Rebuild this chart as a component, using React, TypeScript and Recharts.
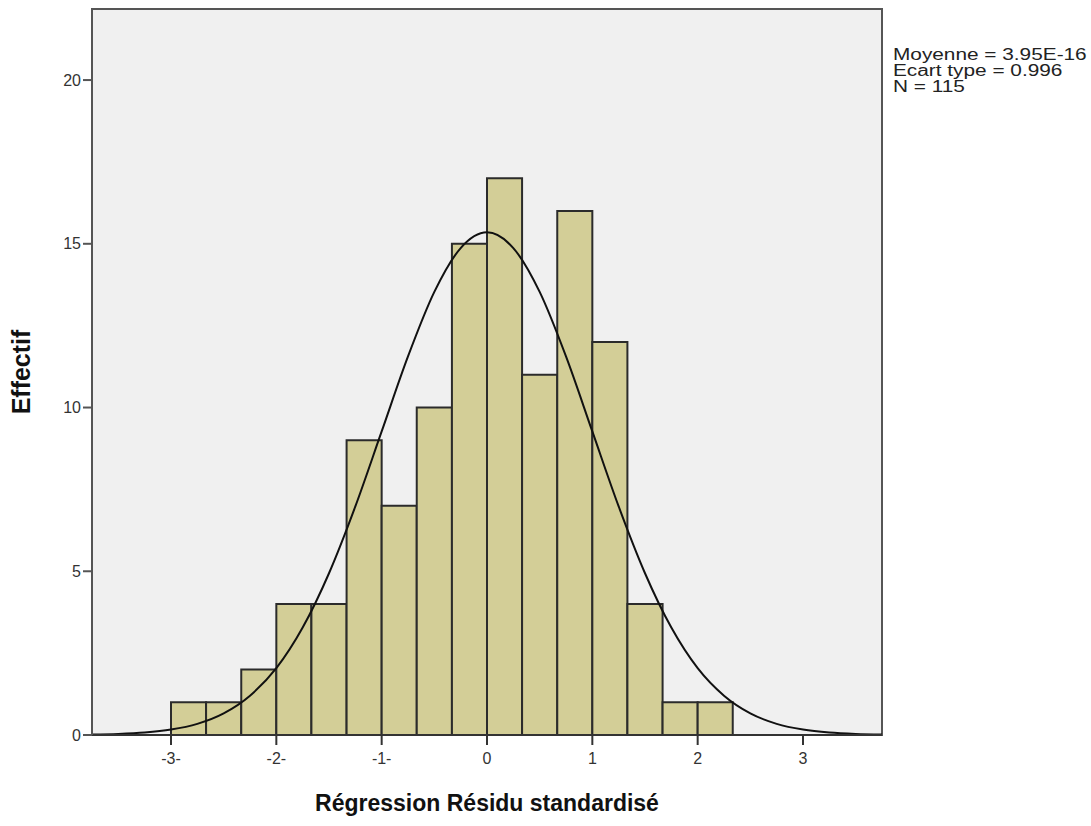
import React from 'react';
import { ComposedChart, Line, XAxis, YAxis, CartesianGrid, ReferenceArea } from 'recharts';

// Histogram bins (left edge, right edge) and counts
const binStarts = [-3, -2.667, -2.333, -2, -1.667, -1.333, -1, -0.667, -0.333, 0, 0.333, 0.667, 1, 1.333, 1.667, 2];
const binEnds = [-2.667, -2.333, -2, -1.667, -1.333, -1, -0.667, -0.333, 0, 0.333, 0.667, 1, 1.333, 1.667, 2, 2.333];
const counts = [1, 1, 2, 4, 4, 9, 7, 10, 15, 17, 11, 16, 12, 4, 1, 1];

// Normal curve
const curveX = [-3.75, -3.5, -3.25, -3, -2.75, -2.5, -2.25, -2, -1.75, -1.5, -1.25, -1, -0.75, -0.5, -0.25, 0,
  0.25, 0.5, 0.75, 1, 1.25, 1.5, 1.75, 2, 2.25, 2.5, 2.75, 3, 3.25, 3.5, 3.75];
const curveY = [0.013, 0.032, 0.075, 0.165, 0.34, 0.66, 1.2, 2.04, 3.28, 4.94, 6.98, 9.27, 11.56, 13.53, 14.87, 15.35,
  14.87, 13.53, 11.56, 9.27, 6.98, 4.94, 3.28, 2.04, 1.2, 0.66, 0.34, 0.165, 0.075, 0.032, 0.013];

const xTicks = [-3, -2, -1, 0, 1, 2, 3];
const xTickLabels = ['-3-', '-2-', '-1-', '0', '1', '2', '3'];
const yTicks = [0, 5, 10, 15, 20];

const statLines = ['Moyenne = 3.95E-16', 'Ecart type = 0.996', 'N = 115'];

const curveData = curveX.map((x, i) => ({ x, y: curveY[i] }));

const FONT = '"Liberation Sans", Arial, sans-serif';

export default function App() {
  return (
    <div style={{ position: 'absolute', left: 0, top: 0, width: 1091, height: 826, background: '#fff', fontFamily: FONT }}>
      <ComposedChart width={1091} height={826} data={curveData} margin={{ top: 9, right: 209, bottom: 0, left: 0 }}>
        <CartesianGrid fill="#f0f0f0" horizontal={false} vertical={false} />
        <XAxis
          dataKey="x"
          type="number"
          domain={[-3.75, 3.75]}
          ticks={xTicks}
          tickFormatter={(v: number) => xTickLabels[xTicks.indexOf(v)] ?? String(v)}
          height={91}
          tickSize={10}
          tickMargin={8}
          stroke="#333"
          strokeWidth={2}
          tick={{ fill: '#333', fontSize: 16, fontFamily: FONT }}
          allowDataOverflow
          label={{
            content: () => (
              <text x={487} y={811} textAnchor="middle" fontFamily={FONT} fontWeight="bold" fontSize={23} fill="#111">
                Régression Résidu standardisé
              </text>
            ),
          }}
        />
        <YAxis
          type="number"
          domain={[0, 22.17]}
          ticks={yTicks}
          width={92}
          tickSize={9}
          tickMargin={2}
          stroke="#555"
          strokeWidth={2}
          tick={{ fill: '#333', fontSize: 16, fontFamily: FONT }}
          allowDataOverflow
          label={{
            content: () => (
              <text x={30} y={372} textAnchor="middle" transform="rotate(-90 30 372)" fontFamily={FONT} fontWeight="bold" fontSize={25} fill="#111">
                Effectif
              </text>
            ),
          }}
        />
        {counts.map((c, i) => (
          <ReferenceArea
            key={i}
            x1={binStarts[i]}
            x2={binEnds[i]}
            y1={0}
            y2={c}
            fill="#d3ce97"
            fillOpacity={1}
            stroke="#2b2b2b"
            strokeWidth={2}
            ifOverflow="visible"
          />
        ))}
        <ReferenceArea x1={-3.75} x2={3.75} y1={0} y2={22.17} fill="none" stroke="#555" strokeWidth={2} ifOverflow="visible" />
        <Line
          dataKey="y"
          type="monotone"
          stroke="#111"
          strokeWidth={2}
          dot={false}
          activeDot={false}
          isAnimationActive={false}
        />
      </ComposedChart>
      <div
        style={{
          position: 'absolute',
          left: 893,
          top: 47,
          fontSize: 16,
          lineHeight: '16px',
          color: '#222',
          fontFamily: FONT,
          whiteSpace: 'nowrap',
          transform: 'scaleX(1.3)',
          transformOrigin: 'left top',
        }}
      >
        {statLines.map((s, i) => (
          <div key={i}>{s}</div>
        ))}
      </div>
    </div>
  );
}
